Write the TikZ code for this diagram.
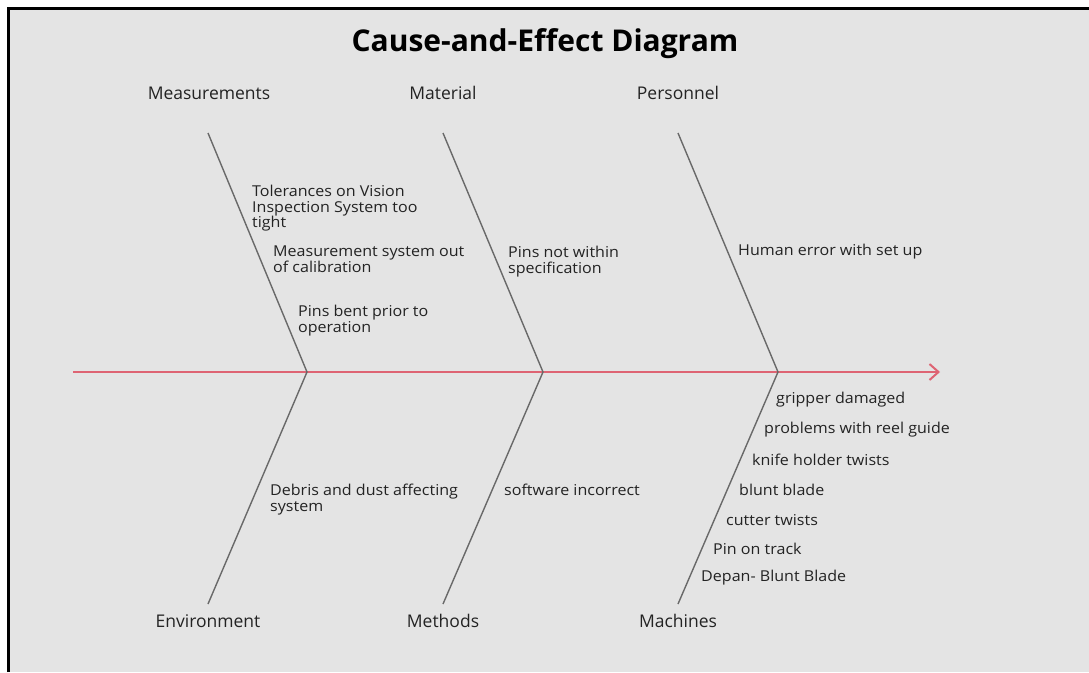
\documentclass[tikz,border=0pt]{standalone}
\usepackage{fontspec}
\setmainfont{Open Sans}
\newfontfamily\causefont[FakeStretch=1.07]{Open Sans}
\usetikzlibrary{arrows.meta}
\definecolor{bg}{RGB}{228,228,228}
\definecolor{spinecol}{RGB}{222,100,115}
\definecolor{bonecol}{RGB}{105,105,105}
\definecolor{txt}{RGB}{35,35,35}
\begin{document}
\begin{tikzpicture}[x=1pt,y=-1pt,
  cat/.style={font=\fontsize{17.5}{20}\selectfont, text=txt, inner sep=0},
  cause/.style={font=\causefont\fontsize{15}{15.5}\selectfont, text=txt, inner sep=0, align=left, anchor=west},
  causeml/.style={font=\causefont\fontsize{15}{15.5}\selectfont, text=txt, inner sep=0, align=left, anchor=north west},
  bonel/.style={draw=bonecol, line width=1.4pt},
  spinel/.style={draw=spinecol, line width=2pt, -{Straight Barb[length=9pt,width=16pt]}}]
\useasboundingbox (0,0) rectangle (1089,672);
\fill[white] (0,0) rectangle (1089,672);
\fill[bg] (8,9) rectangle (1089,672);
\draw[black, line width=3pt] (8.5,672) -- (8.5,8.5) -- (1089,8.5);
% title
\node[font=\fontsize{30}{34}\selectfont\bfseries, text=black, inner sep=0] (title) at (545,44) {Cause-and-Effect Diagram};
% spine
\coordinate (tail) at (73,372);
\coordinate (head) at (940,372);
\coordinate (j1) at (307,372);
\coordinate (j2) at (543,372);
\coordinate (j3) at (778,372);
\draw[spinel] (tail) -- (head);
% bone ends
\coordinate (t1) at (208,133);
\coordinate (t2) at (443,133);
\coordinate (t3) at (678,133);
\coordinate (b1) at (208,604);
\coordinate (b2) at (443,604);
\coordinate (b3) at (678,604);
\draw[bonel] (t1) -- (j1) -- (b1);
\draw[bonel] (t2) -- (j2) -- (b2);
\draw[bonel] (t3) -- (j3) -- (b3);
% categories
\node[cat] (meas) at (209,93) {Measurements};
\node[cat] (mat) at (443,93) {Material};
\node[cat] (pers) at (678,93) {Personnel};
\node[cat] (env) at (208,621) {Environment};
\node[cat] (meth) at (443,621) {Methods};
\node[cat] (mach) at (678,621) {Machines};
% causes
\node[causeml] (c1) at (252,185) {Tolerances on Vision\\Inspection System too\\tight};
\node[causeml] (c2) at (273,246) {Measurement system out\\of calibration};
\node[causeml] (c3) at (298,305) {Pins bent prior to\\operation};
\node[causeml] (c4) at (508,246) {Pins not within\\specification};
\node[cause] (c5) at (738,252) {Human error with set up};
\node[causeml] (c6) at (270,484) {Debris and dust affecting\\system};
\node[cause] (c7) at (504,490) {software incorrect};
\node[cause] (m1) at (776,400) {gripper damaged};
\node[cause] (m2) at (764,430) {problems with reel guide};
\node[cause] (m3) at (752,460) {knife holder twists};
\node[cause] (m4) at (739,490) {blunt blade};
\node[cause] (m5) at (726,520) {cutter twists};
\node[cause] (m6) at (713,549) {Pin on track};
\node[cause] (m7) at (701,578) {Depan- Blunt Blade};
\end{tikzpicture}
\end{document}
